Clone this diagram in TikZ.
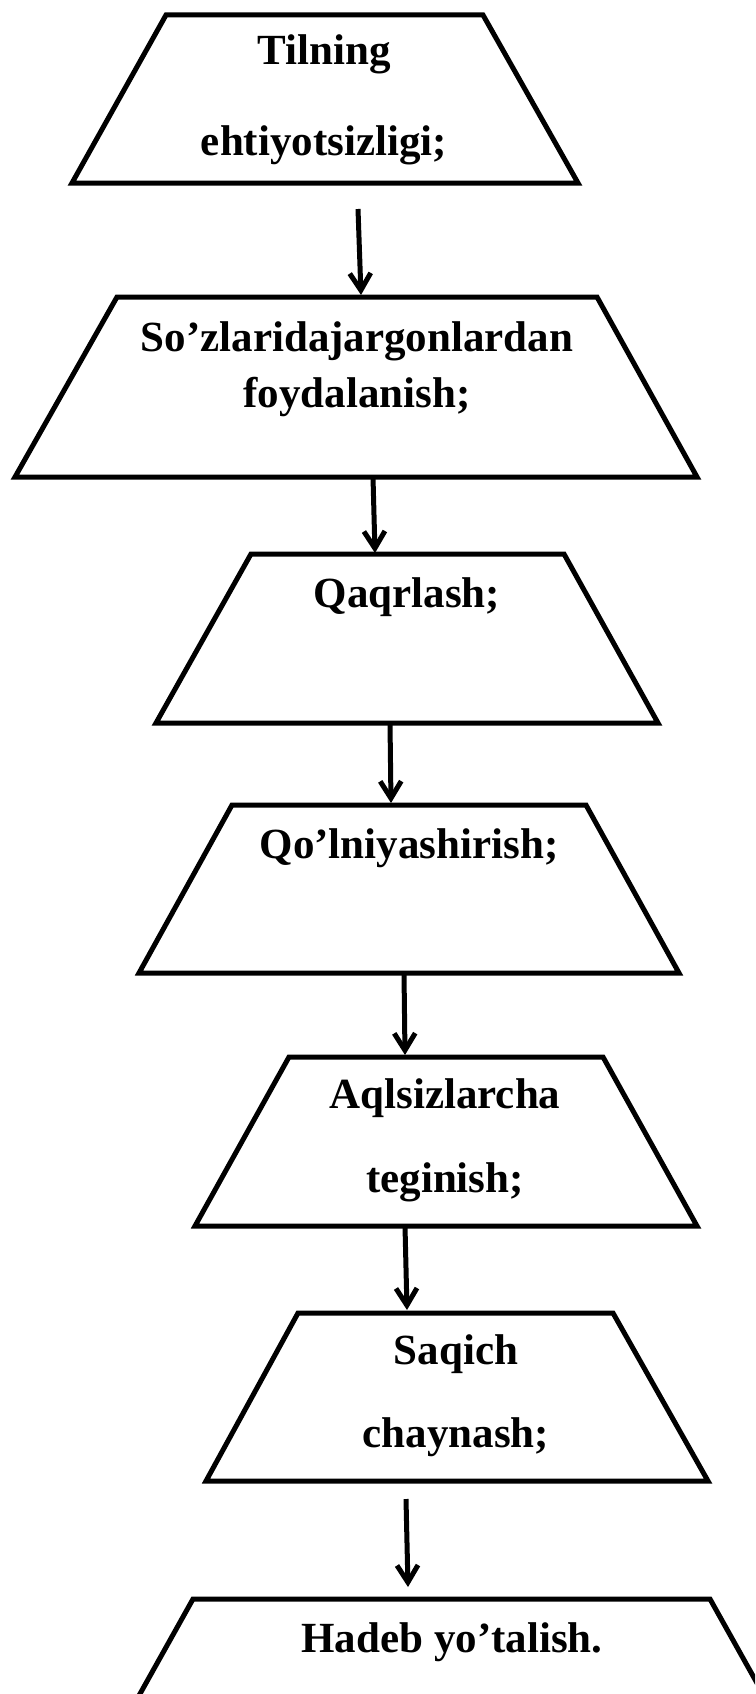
\documentclass[tikz,border=0pt]{standalone}
\usepackage{fontspec}
\setmainfont{Liberation Serif}
\usetikzlibrary{arrows.meta}
\begin{document}
\begin{tikzpicture}[x=1pt,y=-1pt,
  boxline/.style={line width=5pt, line join=miter},
  flowarrow/.style={line width=5pt, -{Straight Barb[length=17pt,width=21pt]}},
  lbl/.style={font=\fontsize{43}{50}\selectfont\bfseries, inner sep=0pt, anchor=base}]
\useasboundingbox (0,0) rectangle (755,1694);
\clip (0,0) rectangle (755,1694);
% trapezia
\draw[boxline] (166,15) -- (483,15) -- (578,183) -- (72,183) -- cycle;
\draw[boxline] (117,297) -- (597,297) -- (697,477) -- (15,477) -- cycle;
\draw[boxline] (251,554) -- (564,554) -- (658,723) -- (156,723) -- cycle;
\draw[boxline] (232,805) -- (586,805) -- (679,973) -- (139,973) -- cycle;
\draw[boxline] (289,1057) -- (603,1057) -- (697,1226) -- (195,1226) -- cycle;
\draw[boxline] (298,1313) -- (613,1313) -- (708,1481) -- (206,1481) -- cycle;
\draw[boxline] (193,1599) -- (710,1599) -- (800,1760) -- (103,1760) -- cycle;
% texts
\node[lbl] (t1a) at (324,65) {Tilning};
\node[lbl] (t1b) at (324,155) {ehtiyotsizligi;};
\node[lbl] (t2a) at (357,351) {So’zlaridajargonlardan};
\node[lbl] (t2b) at (357,407) {foydalanish;};
\node[lbl] (t3) at (407,607) {Qaqrlash;};
\node[lbl] (t4) at (409,858) {Qo’lniyashirish;};
\node[lbl] (t5a) at (445,1108) {Aqlsizlarcha};
\node[lbl] (t5b) at (445,1192) {teginish;};
\node[lbl] (t6a) at (456,1364) {Saqich};
\node[lbl] (t6b) at (456,1447) {chaynash;};
\node[lbl] (t7) at (452,1652) {Hadeb yo’talish.};
% arrow end points
\coordinate (a1s) at (358,209);  \coordinate (a1e) at (361,295);
\coordinate (a2s) at (373,477);  \coordinate (a2e) at (375,553);
\coordinate (a3s) at (390,723);  \coordinate (a3e) at (391,803);
\coordinate (a4s) at (404,973);  \coordinate (a4e) at (405,1055);
\coordinate (a5s) at (405,1226); \coordinate (a5e) at (407,1310);
\coordinate (a6s) at (406,1499); \coordinate (a6e) at (408,1587);
\draw[flowarrow] (a1s) -- (a1e);
\draw[flowarrow] (a2s) -- (a2e);
\draw[flowarrow] (a3s) -- (a3e);
\draw[flowarrow] (a4s) -- (a4e);
\draw[flowarrow] (a5s) -- (a5e);
\draw[flowarrow] (a6s) -- (a6e);
\end{tikzpicture}
\end{document}
